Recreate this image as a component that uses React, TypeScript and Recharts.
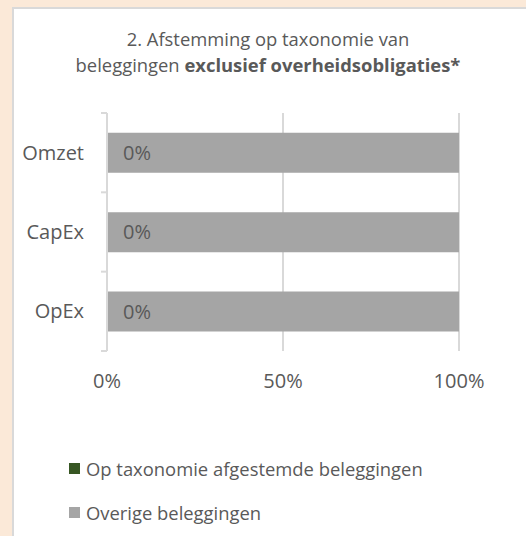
import React from "react";
import { BarChart, Bar, XAxis, YAxis, CartesianGrid, LabelList, Legend } from "recharts";

const categories = ["Omzet", "CapEx", "OpEx"];
const alignedValues = [0, 0, 0];
const otherValues = [100, 100, 100];
const xTicks = [0, 50, 100];
const seriesNames = ["Op taxonomie afgestemde beleggingen", "Overige beleggingen"];
const seriesColors = ["#375623", "#A5A5A5"];
const titleLine1 = "2. Afstemming op taxonomie van";
const titleLine2a = "beleggingen ";
const titleLine2b = "exclusief overheidsobligaties*";

const data = categories.map((c, i) => ({ name: c, aligned: alignedValues[i], other: otherValues[i] }));

const FONT = "'Open Sans', sans-serif";
const TEXT = "#595959";
const GRID = "#D9D9D9";

const YTick = (props: any) => {
  const { x, y, payload, index, visibleTicksCount } = props;
  const off = payload.offset || 0;
  const axisX = x + 23;
  return (
    <g>
      <line x1={axisX - 6} x2={axisX} y1={y - off} y2={y - off} stroke={GRID} strokeWidth={2} />
      {index === visibleTicksCount - 1 && (
        <line x1={axisX - 6} x2={axisX} y1={y + off} y2={y + off} stroke={GRID} strokeWidth={2} />
      )}
      <text x={x} y={y} dy="0.35em" textAnchor="end" fill={TEXT} fontSize={20} fontFamily={FONT}>
        {payload.value}
      </text>
    </g>
  );
};

const AlignedLabel = (props: any) => {
  const { x, y, height, value } = props;
  return (
    <text x={x + 16} y={y + height / 2} dy="0.35em" fill={TEXT} fontSize={20} fontFamily={FONT}>
      {`${value}%`}
    </text>
  );
};

const LegendContent = () => (
  <div style={{ fontFamily: FONT, fontSize: 18.4, color: TEXT }}>
    {seriesNames.map((n, i) => (
      <div key={n} style={{ display: "flex", alignItems: "center", height: 44 }}>
        <span style={{ display: "inline-block", width: 11, height: 11, background: seriesColors[i], marginRight: 6 }} />
        <span>{n}</span>
      </div>
    ))}
  </div>
);

export default function App() {
  return (
    <div style={{ position: "relative", width: 526, height: 536, background: "#FBE9D8", overflow: "hidden" }}>
      <style>{`body{margin:0}`}</style>
      <div
        style={{
          position: "absolute",
          left: 12,
          top: 7,
          width: 520,
          height: 540,
          background: "#FFFFFF",
          border: "2px solid #D9D9D9",
          boxSizing: "border-box",
        }}
      />
      <div
        style={{
          position: "absolute",
          left: 0,
          top: 26,
          width: 536,
          textAlign: "center",
          fontFamily: FONT,
          fontSize: 18.4,
          color: TEXT,
          lineHeight: "26px",
        }}
      >
        <div>{titleLine1}</div>
        <div>
          {titleLine2a}
          <b>{titleLine2b}</b>
        </div>
      </div>
      <div style={{ position: "absolute", left: 0, top: 0 }}>
        <BarChart
          width={526}
          height={536}
          data={data}
          layout="vertical"
          margin={{ top: 113, right: 67, bottom: 55, left: 0 }}
          barCategoryGap="25%"
        >
          <CartesianGrid horizontal={false} stroke={GRID} strokeWidth={2} />
          <XAxis
            type="number"
            domain={[0, 100]}
            ticks={xTicks}
            tickFormatter={(v) => `${v}%`}
            axisLine={false}
            tickLine={false}
            tickSize={6}
            tickMargin={17}
            tick={{ fill: TEXT, fontSize: 20, fontFamily: FONT }}
            height={40}
          />
          <YAxis
            type="category"
            dataKey="name"
            width={107}
            axisLine={{ stroke: GRID, strokeWidth: 2 }}
            tickLine={false}
            tickSize={6}
            tickMargin={17}
            tick={<YTick />}
          />
          <Bar dataKey="aligned" stackId="a" fill={seriesColors[0]} name={seriesNames[0]} isAnimationActive={false} />
          <Bar dataKey="other" stackId="a" fill={seriesColors[1]} name={seriesNames[1]} isAnimationActive={false}>
            <LabelList dataKey="aligned" content={<AlignedLabel />} />
          </Bar>
          <Legend
            layout="horizontal"
            verticalAlign="bottom"
            align="left"
            wrapperStyle={{ top: 446, left: 69, width: 440, height: 90 }}
            content={<LegendContent />}
          />
        </BarChart>
      </div>
    </div>
  );
}
